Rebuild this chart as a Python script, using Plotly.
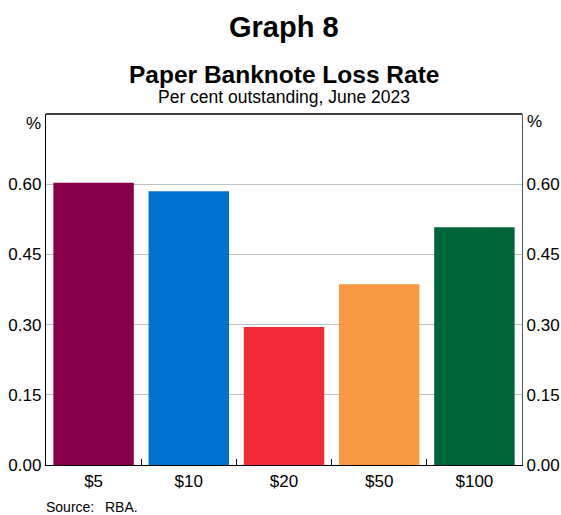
import plotly.graph_objects as go

categories = ["$5", "$10", "$20", "$50", "$100"]
loss_rate = [0.603, 0.585, 0.295, 0.386, 0.508]
bar_colors = ["#87004B", "#0072CE", "#F32A3A", "#F89840", "#00663A"]
tick_vals = [0.0, 0.15, 0.30, 0.45, 0.60]
tick_text = ["0.00", "0.15", "0.30", "0.45", "0.60"]

W, H = 561, 515
ML, MR, MT, MB = 46, 39, 114, 50
PH = H - MT - MB
PW = W - ML - MR
FONT = "Liberation Sans, Arial, sans-serif"


def py(p):
    return (H - MB - p) / PH


def px(p):
    return (p - ML) / PW


fig = go.Figure()
fig.add_trace(go.Bar(x=categories, y=loss_rate, marker=dict(color=bar_colors, line=dict(width=0)),
                     showlegend=False, hoverinfo="skip"))
fig.add_trace(go.Scatter(x=categories, y=loss_rate, yaxis="y2", mode="markers",
                         marker=dict(opacity=0), showlegend=False, hoverinfo="skip"))

fig.update_layout(
    width=W, height=H,
    margin=dict(l=ML, r=MR, t=MT, b=MB, autoexpand=False),
    paper_bgcolor="white", plot_bgcolor="white",
    bargap=0.155,
    font=dict(family=FONT, size=17, color="black"),
    xaxis=dict(showline=True, linecolor="black", linewidth=1.3, ticks="inside", ticklen=6,
               tickcolor="black", tickson="boundaries", showgrid=False, automargin=False,
               tickfont=dict(size=17), fixedrange=True),
    yaxis=dict(range=[0, 0.75], tickvals=tick_vals, ticktext=tick_text, showgrid=True,
               gridcolor="#C0C0C0", gridwidth=1, showline=True, linecolor="black", linewidth=1.3,
               ticks="", zeroline=False, automargin=False, tickfont=dict(size=17)),
    yaxis2=dict(range=[0, 0.75], tickvals=tick_vals, ticktext=tick_text, overlaying="y",
                side="right", showgrid=False, showline=True, linecolor="#555555", linewidth=1.3,
                ticks="", zeroline=False, automargin=False, tickfont=dict(size=17)),
)

fig.add_shape(type="line", xref="paper", yref="paper", x0=0, x1=1, y0=1, y1=1,
              line=dict(color="black", width=1.3))

ann = [
    dict(text="<b>Graph 8</b>", x=0.5, y=py(27), size=29, xanchor="center"),
    dict(text="<b>Paper Banknote Loss Rate</b>", x=0.5, y=py(74.5), size=24.5, xanchor="center"),
    dict(text="Per cent outstanding, June 2023", x=0.5, y=py(97), size=17.5, xanchor="center"),
    dict(text="%", x=px(43), y=py(123), size=17, xanchor="right"),
    dict(text="%", x=px(525), y=py(122), size=17, xanchor="left"),
    dict(text="Source:", x=px(44), y=py(506.5), size=14, xanchor="left"),
    dict(text="RBA.", x=px(103), y=py(506.5), size=14, xanchor="left"),
]
for a in ann:
    fig.add_annotation(text=a["text"], xref="paper", yref="paper", x=a["x"], y=a["y"],
                       xanchor=a["xanchor"], yanchor="middle", showarrow=False,
                       font=dict(family=FONT, size=a["size"], color="black"))

fig.write_html("out.html")
